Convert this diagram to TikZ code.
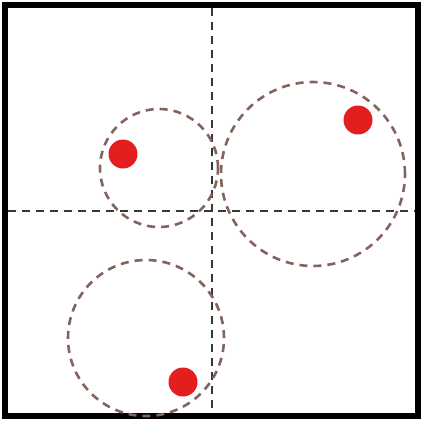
\documentclass[tikz,border=0pt]{standalone}
\usetikzlibrary{positioning}
\definecolor{dotred}{RGB}{226,30,30}
\definecolor{ringbrown}{RGB}{130,100,92}
\definecolor{axisgray}{RGB}{55,55,55}
\begin{document}
\begin{tikzpicture}[x=1pt, y=-1pt,
            ring/.style={circle, draw=ringbrown, line width=2.6pt, dash pattern=on 8pt off 6pt, inner sep=0pt},
            dot/.style={circle, fill=dotred, minimum size=29pt, inner sep=0pt},
            axis/.style={draw=axisgray, line width=2.8pt, dash pattern=on 8pt off 6pt}
        ]
            \useasboundingbox (0,0) rectangle (423,421);
            \draw[line width=6pt] (5,5) rectangle (418,416);
            \coordinate (top) at (212,8);
            \coordinate (bottom) at (212,413);
            \coordinate (left) at (8,211);
            \coordinate (right) at (415,211);
            \draw[axis] (top) -- (bottom);
            \draw[axis] (left) -- (right);
            \node[ring, minimum size=118pt] (c1) at (159,168) {};
            \node[ring, minimum size=184pt] (c2) at (313,174) {};
            \node[ring, minimum size=156pt] (c3) at (146,338) {};
            \node[dot] (p1) at (123,154) {};
            \node[dot] (p2) at (358,120) {};
            \node[dot] (p3) at (183,382) {};
        \end{tikzpicture}
\end{document}
